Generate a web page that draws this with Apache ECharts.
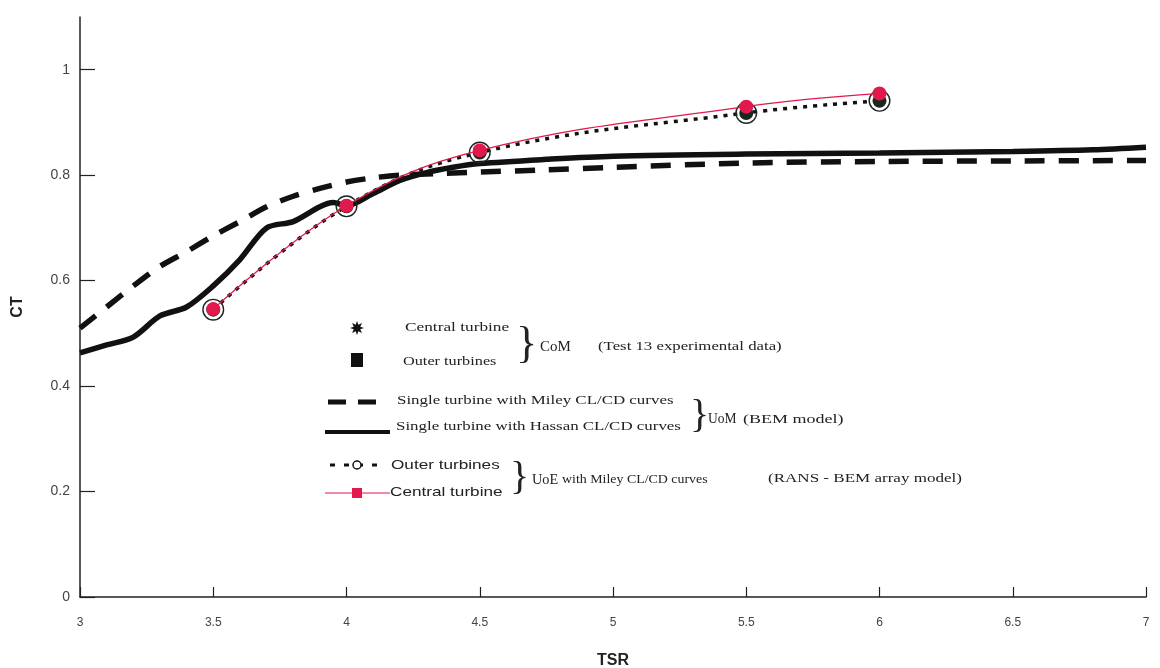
<!DOCTYPE html>
<html>
<head>
<meta charset="utf-8">
<script src="https://cdn.jsdelivr.net/npm/echarts@6/dist/echarts.min.js"></script>
<style>
  html, body { margin: 0; padding: 0; background: #fff; }
  #chart { width: 1160px; height: 668px; }
</style>
</head>
<body>
<div id="chart"></div>
<script>
// Tip speed ratio values and thrust coefficients
const xTicks = [3, 3.5, 4, 4.5, 5, 5.5, 6, 6.5, 7];
const yTicks = [0, 0.2, 0.4, 0.6, 0.8, 1];

// UoM BEM model, single turbine, Miley CL/CD curves
const mileyTSR = [3.0, 3.1, 3.2, 3.3, 3.4, 3.5, 3.6, 3.7, 3.8, 3.9, 4.0, 4.1, 4.2, 4.35, 4.5, 4.75, 5.0, 5.5, 6.0, 6.5, 7.0];
const mileyCT  = [0.51, 0.55, 0.59, 0.627, 0.655, 0.685, 0.712, 0.74, 0.76, 0.775, 0.787, 0.795, 0.80, 0.803, 0.806, 0.81, 0.815, 0.823, 0.826, 0.827, 0.828];

// UoM BEM model, single turbine, Hassan CL/CD curves
const hassanTSR = [3.0, 3.1, 3.2, 3.3, 3.4, 3.5, 3.6, 3.7, 3.8, 3.9, 3.95, 4.0, 4.1, 4.2, 4.3, 4.4, 4.5, 4.75, 5.0, 5.5, 6.0, 6.5, 6.8, 7.0];
const hassanCT  = [0.463, 0.478, 0.493, 0.533, 0.55, 0.59, 0.64, 0.70, 0.712, 0.74, 0.748, 0.742, 0.765, 0.79, 0.805, 0.815, 0.822, 0.83, 0.836, 0.84, 0.842, 0.845, 0.848, 0.853];

// UoE RANS-BEM array model
const arrayTSR   = [3.5, 4.0, 4.5, 5.5, 6.0];
const outerCT    = [0.545, 0.741, 0.843, 0.918, 0.941];
const centralCT  = [0.546, 0.742, 0.847, 0.930, 0.955];

const RED = '#e2194c';
const pairs = (xs, ys) => xs.map((x, i) => [x, ys[i]]);

// open ring with a dark core, used for the outer-turbine markers
const ringDot = 'path://M1,12 A11,11 0 0,1 23,12 A11,11 0 0,1 1,12 Z ' +
                'M2.4,12 A9.6,9.6 0 0,0 21.6,12 A9.6,9.6 0 0,0 2.4,12 Z ' +
                'M5,12 A7,7 0 0,1 19,12 A7,7 0 0,1 5,12 Z';

const chart = echarts.init(document.getElementById('chart'));

const serif = '"Liberation Serif", "DejaVu Serif", serif';
const sans = '"Liberation Sans", Arial, sans-serif';

function txt(x, y, text, size, family, sx) {
  return {
    type: 'text', x: x, y: y, scaleX: sx || 1,
    style: { text: text, fill: '#222', font: size + 'px ' + family, textVerticalAlign: 'middle' }
  };
}
function brace(x, yMid, size) {
  return {
    type: 'text', x: x, y: yMid,
    style: { text: '}', fill: '#222', font: size + 'px ' + serif, textVerticalAlign: 'middle' }
  };
}
function star(cx, cy, r1, r2, n) {
  const pts = [];
  for (let i = 0; i < 2 * n; i++) {
    const r = i % 2 === 0 ? r1 : r2;
    const a = Math.PI * i / n - Math.PI / 2;
    pts.push([cx + r * Math.cos(a), cy + r * Math.sin(a)]);
  }
  return { type: 'polygon', shape: { points: pts }, style: { fill: '#111' } };
}

const legendGraphics = [
  // CoM experimental data
  star(357, 328, 7, 3.5, 8),
  txt(405, 328, 'Central turbine', 13, serif, 1.33),
  { type: 'rect', shape: { x: 351, y: 353, width: 12, height: 14 }, style: { fill: '#111' } },
  txt(403, 362, 'Outer turbines', 13, serif, 1.25),
  brace(516, 345, 44),
  txt(540, 347, 'CoM', 15, serif, 1),
  txt(598, 347, '(Test 13 experimental data)', 13, serif, 1.29),

  // UoM BEM model
  { type: 'line', shape: { x1: 328, y1: 402, x2: 378, y2: 402 },
    style: { stroke: '#111', lineWidth: 5, lineDash: [18, 12] } },
  txt(397, 401, 'Single turbine with Miley CL/CD curves', 13, serif, 1.3),
  { type: 'line', shape: { x1: 325, y1: 432, x2: 390, y2: 432 },
    style: { stroke: '#111', lineWidth: 4 } },
  txt(396, 427, 'Single turbine with Hassan CL/CD curves', 13, serif, 1.3),
  brace(690, 416, 40),
  txt(708, 419, 'UoM', 15, serif, 0.9),
  txt(743, 420, '(BEM model)', 12, serif, 1.5),

  // UoE RANS-BEM array model
  { type: 'line', shape: { x1: 330, y1: 465, x2: 382, y2: 465 },
    style: { stroke: '#111', lineWidth: 3, lineDash: [5, 9] } },
  { type: 'circle', shape: { cx: 357, cy: 465, r: 4 }, style: { fill: '#fff', stroke: '#111', lineWidth: 1.5 } },
  txt(391, 465, 'Outer turbines', 13, sans, 1.32),
  { type: 'line', shape: { x1: 325, y1: 493, x2: 390, y2: 493 },
    style: { stroke: RED, lineWidth: 1.2 } },
  { type: 'rect', shape: { x: 352, y: 488, width: 10, height: 10 }, style: { fill: RED } },
  txt(390, 492, 'Central turbine', 13, sans, 1.32),
  brace(510, 478, 40),
  txt(532, 480, 'UoE', 15, serif, 0.95),
  txt(562, 480, 'with Miley CL/CD curves', 13, serif, 1.07),
  txt(768, 479, '(RANS - BEM array model)', 13, serif, 1.31)
];

chart.setOption({
  animation: false,
  backgroundColor: '#fff',
  grid: { left: 80, right: 14, top: 17, bottom: 71, outerBoundsMode: 'none', containLabel: false },
  xAxis: {
    type: 'value', min: 3, max: 7, interval: 0.5,
    name: 'TSR', nameLocation: 'middle', nameGap: 56,
    nameTextStyle: { fontFamily: sans, fontWeight: 'bold', fontSize: 16, color: '#222' },
    axisLine: { lineStyle: { color: '#222', width: 1.5 } },
    axisTick: { inside: true, length: 10, lineStyle: { color: '#222', width: 1.2 } },
    axisLabel: { margin: 20, fontFamily: sans, fontSize: 12, color: '#444' },
    splitLine: { show: false }
  },
  yAxis: {
    type: 'value', min: 0, max: 1.1,
    name: 'CT', nameLocation: 'middle', nameGap: 54, nameRotate: 90,
    nameTextStyle: { fontFamily: sans, fontWeight: 'bold', fontSize: 16, color: '#222' },
    axisLine: { show: true, lineStyle: { color: '#222', width: 1.5 } },
    axisTick: { show: true, inside: true, length: 15, customValues: yTicks, lineStyle: { color: '#222', width: 1.2 } },
    axisLabel: { margin: 10, fontFamily: sans, fontSize: 14, color: '#444', customValues: yTicks },
    splitLine: { show: false }
  },
  graphic: legendGraphics,
  series: [
    {
      name: 'Single turbine with Miley CL/CD curves', type: 'line',
      data: pairs(mileyTSR, mileyCT), showSymbol: false, smooth: 0.3,
      lineStyle: { color: '#111', width: 5.5, type: [20, 14] }, z: 2
    },
    {
      name: 'Single turbine with Hassan CL/CD curves', type: 'line',
      data: pairs(hassanTSR, hassanCT), showSymbol: false, smooth: 0.3,
      lineStyle: { color: '#111', width: 5.5 }, z: 2
    },
    {
      name: 'Outer turbines', type: 'line',
      data: pairs(arrayTSR, outerCT), smooth: 0.4,
      symbol: ringDot, symbolSize: 22,
      itemStyle: { color: '#1c2620' },
      lineStyle: { color: '#111', width: 3.5, type: [4, 6] }, z: 3
    },
    {
      name: 'Central turbine', type: 'line',
      data: pairs(arrayTSR, centralCT), smooth: 0.4,
      symbol: 'circle', symbolSize: 14,
      itemStyle: { color: RED },
      lineStyle: { color: RED, width: 1.3 }, z: 4
    }
  ]
});
</script>
</body>
</html>
